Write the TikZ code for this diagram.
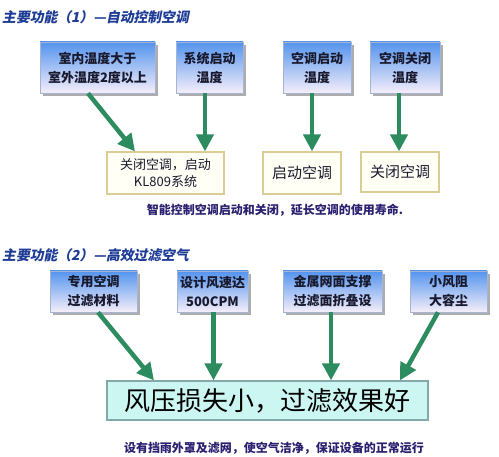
\documentclass[tikz,border=0pt]{standalone}
\usepackage{fontspec}
\setmainfont{Noto Sans CJK SC}
\newfontfamily\cjkit{Noto Sans CJK SC}[FakeSlant=0.2]
\usetikzlibrary{arrows.meta,shadows}
\definecolor{arrgreen}{RGB}{44,140,95}
\definecolor{boxtop}{RGB}{84,148,238}
\definecolor{boxbot}{RGB}{245,238,250}
\definecolor{boxline}{RGB}{165,180,210}
\definecolor{tanline}{RGB}{220,205,150}
\definecolor{cream}{RGB}{255,255,246}
\definecolor{cyanfill}{RGB}{204,246,242}
\definecolor{cyanline}{RGB}{130,170,170}
\definecolor{titleblue}{RGB}{30,60,150}
\definecolor{capblue}{RGB}{42,32,112}
\definecolor{txt}{RGB}{25,25,45}
\tikzset{
  bluebox/.style={draw=boxline, line width=0.6pt, top color=boxtop, bottom color=boxbot,
    drop shadow={shadow xshift=3pt, shadow yshift=-3pt, fill=black!40, opacity=0.8},
    align=center, inner sep=0pt, text=txt, font=\fontsize{13}{19}\selectfont\bfseries},
  resbox/.style={draw=tanline, line width=1.2pt, fill=cream, align=center, inner sep=0pt, text=txt},
  bigbox/.style={draw=cyanline, line width=1.2pt, fill=cyanfill, align=center, inner sep=0pt},
  arr/.style={draw=arrgreen, line width=4.5pt, -{Triangle[width=17pt,length=17pt]}, fill=arrgreen},
  heading/.style={anchor=west, inner sep=0pt, text=titleblue, font=\cjkit\fontsize{13.8}{15}\selectfont\bfseries},
  caption/.style={inner sep=0pt, text=capblue, font=\fontsize{12}{13}\selectfont\bfseries}
}
\begin{document}
\begin{tikzpicture}[x=1pt,y=-1pt]
\useasboundingbox[fill=white] (0,0) rectangle (499,457);
% section 1
\node[heading] (t1) at (2,17) {主要功能（1）—自动控制空调};
\node[bluebox, minimum width=115pt, minimum height=51pt] (A) at (97.5,67.5) {室内温度大于\\室外温度2度以上};
\node[bluebox, minimum width=67pt, minimum height=51pt] (B) at (209.5,67.5) {系统启动\\温度};
\node[bluebox, minimum width=68pt, minimum height=51pt] (C) at (317,67.5) {空调启动\\温度};
\node[bluebox, minimum width=70pt, minimum height=51pt] (D) at (405,67.5) {空调关闭\\温度};
\node[resbox, minimum width=117pt, minimum height=42pt, font=\fontsize{13}{17}\selectfont] (E) at (165.5,173) {关闭空调，启动\\KL809系统};
\node[resbox, minimum width=78pt, minimum height=42pt, font=\fontsize{15}{17}\selectfont] (F) at (302,173) {启动空调};
\node[resbox, minimum width=78pt, minimum height=40pt, font=\fontsize{15}{17}\selectfont] (G) at (400,172) {关闭空调};
\node[caption] (c1) at (275,210) {智能控制空调启动和关闭，延长空调的使用寿命.};
\draw[arr] ([xshift=-9.5pt]A.south) -- ([xshift=-30.5pt]E.north);
\draw[arr] ([xshift=-4.5pt]B.south) -- ([xshift=39.5pt]E.north);
\draw[arr] ([xshift=-5pt]C.south) -- ([xshift=10pt]F.north);
\draw[arr] ([xshift=-6pt]D.south) -- ([xshift=-1pt]G.north);
% section 2
\node[heading] (t2) at (2,255) {主要功能（2）—高效过滤空气};
\node[bluebox, minimum width=87pt, minimum height=41pt] (H) at (93.5,291.5) {专用空调\\过滤材料};
\node[bluebox, minimum width=71pt, minimum height=41pt] (I) at (212.5,291.5) {设计风速达\\500CPM};
\node[bluebox, minimum width=99pt, minimum height=41pt] (J) at (332.5,291.5) {金属网面支撑\\过滤面折叠设};
\node[bluebox, minimum width=77pt, minimum height=41pt] (K) at (448.5,291.5) {小风阻\\大容尘};
\node[bigbox, minimum width=321pt, minimum height=39pt, font=\fontsize{26}{28}\selectfont] (L) at (267.5,400.5) {风压损失小，过滤效果好};
\node[caption] (c2) at (274,448) {设有挡雨外罩及滤网，使空气洁净，保证设备的正常运行};
\draw[arr] ([xshift=4.5pt]H.south) -- ([xshift=-113.5pt]L.north);
\draw[arr] ([xshift=1pt]I.south) -- ([xshift=-54pt]L.north);
\draw[arr] ([xshift=-1.5pt]J.south) -- ([xshift=63.5pt]L.north);
\draw[arr] ([xshift=-10.5pt]K.south) -- ([xshift=132.5pt]L.north);
\end{tikzpicture}
\end{document}
